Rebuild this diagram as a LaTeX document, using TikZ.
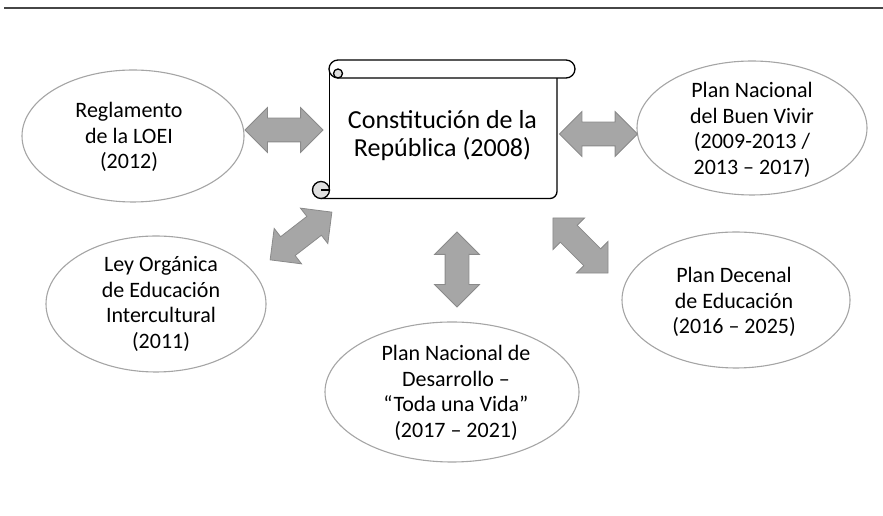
\documentclass[tikz,border=0pt]{standalone}
\usepackage{fontspec}
\setmainfont{Carlito}
\usetikzlibrary{shapes.arrows}

\definecolor{flecha}{RGB}{166,166,166}
\definecolor{flechaborde}{RGB}{138,138,138}
\definecolor{bordeelipse}{RGB}{165,165,165}
\definecolor{lineasup}{RGB}{70,70,70}

\tikzset{
	elipse/.style={draw=bordeelipse, line width=1.1pt, fill=white},
	texto/.style={align=center, inner sep=0pt, font=\fontsize{22}{25.5}\selectfont},
	pergamino/.style={draw=black, line width=1.3pt, line join=round},
	flechadoble/.style={double arrow, draw=flechaborde, fill=flecha, line width=0.8pt,
		minimum height=78pt, minimum width=44pt, double arrow head extend=10.5pt,
		inner xsep=0pt, inner ysep=11.5pt}
}

\begin{document}
\begin{tikzpicture}[x=1pt,y=1pt]
	\useasboundingbox (0,0) rectangle (883,516);

	% linea superior
	\draw [lineasup, line width=2.5pt] (4,508) -- (883,508);

	% pergamino
	\fill [white] (329.5,447) rectangle (557,318);
	\draw [pergamino] (329.5,447) -- (329.5,326);
	\draw [pergamino] (321,317.5) -- (550,317.5) arc (-90:0:7) -- (557,438);
	\draw [pergamino, fill=gray!25] (321,326) circle (8.5);
	\draw [pergamino] (321,326) -- (329.5,326);
	\draw [pergamino, fill=white] (338,456) -- (566,456) arc (90:-90:9) -- (338,438) arc (270:90:9) -- cycle;
	\draw [pergamino, fill=gray!25] (338,438) arc (-90:90:4.5) arc (90:270:4.5);
	\node [texto, font=\fontsize{26}{28}\selectfont] (const) at (442.5,380) {Constitución de la\\República (2008)};

	% elipses
	\draw [elipse] (133,380) ellipse [x radius=111, y radius=66];
	\node [texto] (loei) at (129,379) {Reglamento\\de la LOEI\\(2012)};

	\draw [elipse] (752,388) ellipse [x radius=115, y radius=67];
	\node [texto] (pnbv) at (752,386) {Plan Nacional\\del Buen Vivir\\(2009-2013 /\\2013 – 2017)};

	\draw [elipse] (156,212) ellipse [x radius=110, y radius=68];
	\node [texto] (ley) at (161,212) {Ley Orgánica\\de Educación\\Intercultural\\(2011)};

	\draw [elipse] (736,216) ellipse [x radius=114, y radius=68];
	\node [texto] (pdec) at (734,214) {Plan Decenal\\de Educación\\(2016 – 2025)};

	\draw [elipse] (452,124) ellipse [x radius=127, y radius=70];
	\node [texto] (pnd) at (456,123) {Plan Nacional de\\Desarrollo –\\“Toda una Vida”\\ (2017 – 2021)};

	% flechas dobles
	\node [flechadoble] (fl1) at (284,386) {};
	\node [flechadoble] (fl2) at (598.5,382) {};
	\node [flechadoble, rotate=37.7] (fl3) at (301,280) {};
	\node [flechadoble, rotate=-45] (fl4) at (580.5,270.5) {};
	\node [flechadoble, rotate=90, minimum height=75pt] (fl5) at (457,246.5) {};
\end{tikzpicture}
\end{document}
